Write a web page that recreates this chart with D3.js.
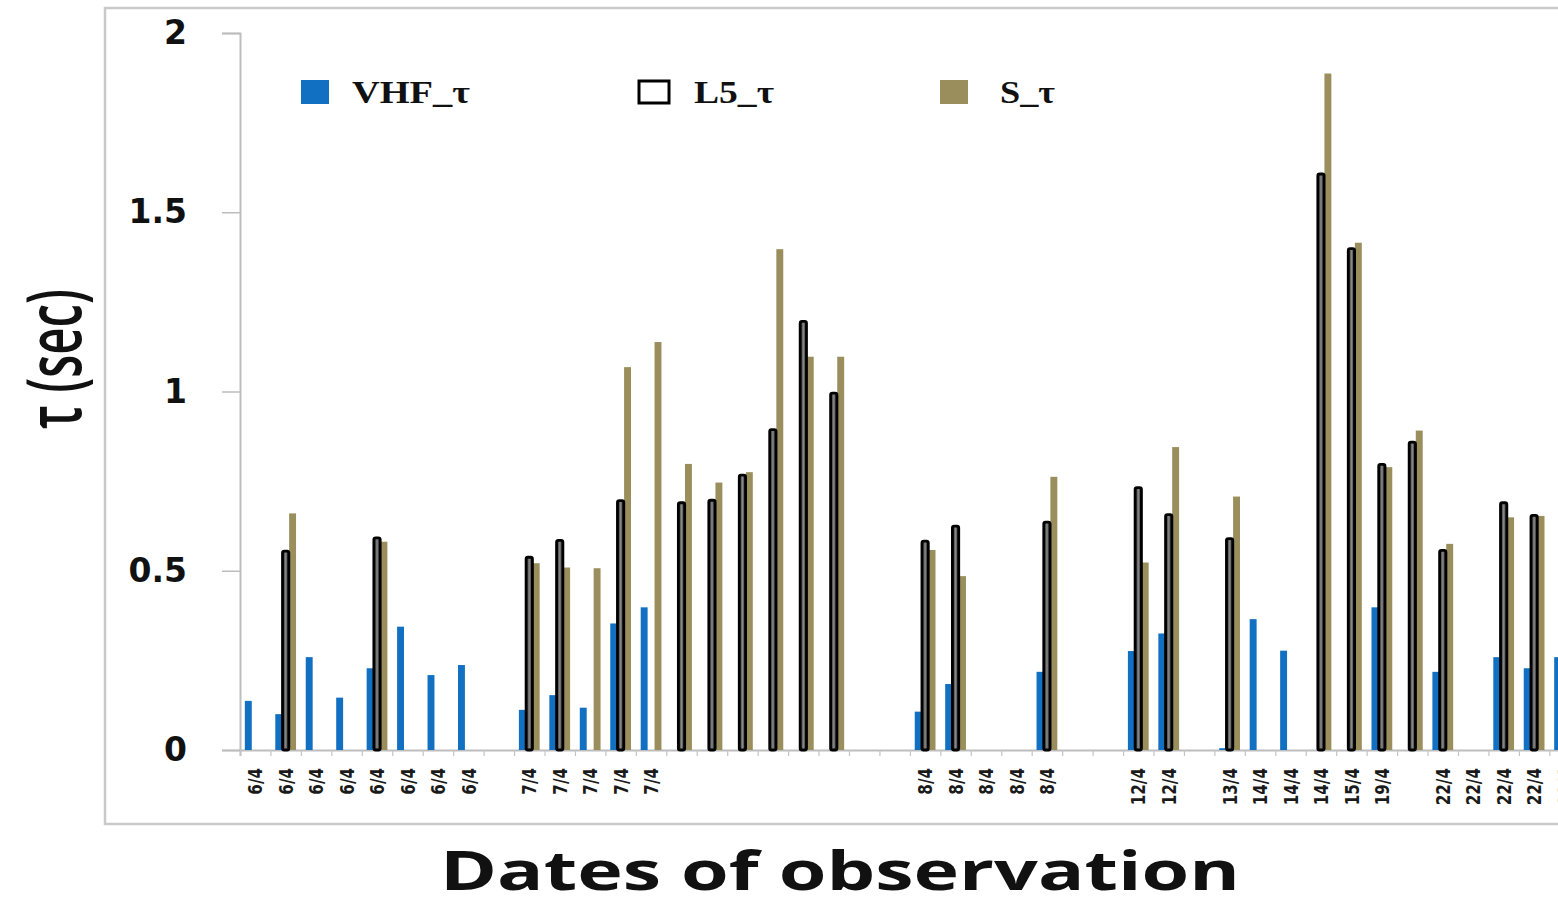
<!DOCTYPE html>
<html>
<head>
<meta charset="utf-8">
<script src="https://cdn.jsdelivr.net/npm/d3@7"></script>
<style>
  html, body { margin: 0; padding: 0; background: #fff; }
  svg { display: block; }
</style>
</head>
<body>
<svg id="chart" width="1558" height="897"></svg>
<script>
// Observation dates (one per bar group; blank where the axis has no label)
const categories = [
  "6/4","6/4","6/4","6/4","6/4","6/4","6/4","6/4",
  "",
  "7/4","7/4","7/4","7/4","7/4",
  "","","","","","","","",
  "8/4","8/4","8/4","8/4","8/4",
  "","",
  "12/4","12/4",
  "",
  "13/4","14/4","14/4","14/4","15/4","19/4",
  "",
  "22/4","22/4","22/4","22/4","22/4"
];

// Decorrelation time tau (sec) per link; null = no measurement
const vhfTau = [0.137,0.100,0.259,0.146,0.228,0.344,0.209,0.237,null,
  0.112,0.153,0.118,0.353,0.398,
  null,null,null,null,null,null,null,null,
  0.107,0.184,null,null,0.218,null,null,0.276,0.325,null,
  0.005,0.365,0.277,null,null,0.398,null,0.218,null,0.259,0.228,0.259];

const l5Tau = [null,0.558,null,null,0.595,null,null,null,null,
  0.541,0.588,null,0.699,null,
  0.693,0.700,0.770,0.897,1.199,0.999,null,null,
  0.586,0.628,null,null,0.639,null,null,0.735,0.660,null,
  0.593,null,null,1.610,1.402,0.800,0.862,0.560,null,0.693,0.658,null];

const sTau = [null,0.660,null,null,0.581,null,null,null,null,
  0.521,0.509,0.507,1.068,1.138,
  0.798,0.746,0.775,1.397,1.097,1.097,null,null,
  0.558,0.485,null,null,0.762,null,null,0.523,0.845,null,
  0.707,null,null,1.887,1.415,0.789,0.891,0.575,null,0.649,0.653,null];

const yTicks = [0, 0.5, 1, 1.5, 2];
const seriesNames = ["VHF_τ", "L5_τ", "S_τ"];

const svg = d3.select("#chart");
const defs = svg.append("defs");
const grad = defs.append("linearGradient").attr("id", "l5fill")
  .attr("x1", "0%").attr("x2", "100%").attr("y1", "0%").attr("y2", "0%");
grad.append("stop").attr("offset", "0%").attr("stop-color", "#1a1a1a");
grad.append("stop").attr("offset", "50%").attr("stop-color", "#8a8a8a");
grad.append("stop").attr("offset", "100%").attr("stop-color", "#1a1a1a");

// Outer chart frame
svg.append("rect")
  .attr("x", 105).attr("y", 8).attr("width", 1600).attr("height", 816)
  .attr("fill", "none").attr("stroke", "#c9c9c9").attr("stroke-width", 2.5);

const x0 = 240, step = 30.45;
const idx = d3.range(categories.length);
const x = d3.scaleBand().domain(idx).range([x0, x0 + step * categories.length]).padding(0);
const xs = d3.scaleBand().domain(["vhf", "l5", "s"]).range([0, x.bandwidth()])
  .paddingInner(0).paddingOuter(0.7);
const y = d3.scaleLinear().domain([0, 2]).range([750, 33]);

// Y axis
const yAxis = svg.append("g").attr("transform", `translate(${x0},0)`)
  .call(d3.axisLeft(y).tickValues(yTicks).tickSize(18).tickPadding(35).tickFormat(d => String(d)));
yAxis.select(".domain").attr("stroke", "#bdbdbd").attr("stroke-width", 2);
yAxis.selectAll(".tick line").attr("stroke", "#bdbdbd").attr("stroke-width", 1.5);
yAxis.selectAll(".tick text")
  .attr("font-family", "DejaVu Sans").attr("font-weight", "bold")
  .attr("font-size", 33).attr("fill", "#111");

// X axis: boundary ticks
const xb = d3.scaleLinear().domain([0, categories.length]).range(x.range());
const xAxisB = svg.append("g").attr("transform", "translate(0,750)")
  .call(d3.axisBottom(xb).tickValues(d3.range(0, categories.length + 1)).tickSize(6).tickFormat(""));
xAxisB.select(".domain").attr("stroke", "#bdbdbd").attr("stroke-width", 2);
xAxisB.selectAll(".tick line").attr("stroke", "#c4c4c4").attr("stroke-width", 1.2);

// X axis: date labels at group centres
const xAxisL = svg.append("g").attr("transform", "translate(0,750)")
  .call(d3.axisBottom(x).tickSize(0).tickFormat(i => categories[i]));
xAxisL.select(".domain").remove();
xAxisL.selectAll(".tick text")
  .attr("x", 0).attr("y", 0).attr("dy", "0.36em")
  .attr("text-anchor", "end")
  .attr("transform", "translate(0,18) rotate(-90) scale(0.76,1)")
  .attr("font-family", "DejaVu Sans").attr("font-weight", "bold")
  .attr("font-size", 20).attr("fill", "#1a1a1a");

// Bars
const bars = svg.append("g");
const rows = idx.map(i => ({ i, vhf: vhfTau[i], l5: l5Tau[i], s: sTau[i] }));

bars.selectAll("rect.vhf").data(rows.filter(d => d.vhf != null)).join("rect")
  .attr("class", "vhf")
  .attr("x", d => x(d.i) + xs("vhf")).attr("width", xs.bandwidth())
  .attr("y", d => y(d.vhf)).attr("height", d => y(0) - y(d.vhf))
  .attr("fill", "#1170c2");

bars.selectAll("rect.s").data(rows.filter(d => d.s != null)).join("rect")
  .attr("class", "s")
  .attr("x", d => x(d.i) + xs("s")).attr("width", xs.bandwidth())
  .attr("y", d => y(d.s)).attr("height", d => y(0) - y(d.s))
  .attr("fill", "#9a8f5c");

bars.selectAll("rect.l5").data(rows.filter(d => d.l5 != null)).join("rect")
  .attr("class", "l5")
  .attr("x", d => x(d.i) + xs("l5") + 0.3).attr("width", xs.bandwidth() - 0.6)
  .attr("y", d => y(d.l5) + 1.2).attr("height", d => y(0) - y(d.l5) - 1.2)
  .attr("rx", 1.8)
  .attr("fill", "url(#l5fill)").attr("stroke", "#000").attr("stroke-width", 2.8);

// Legend
const legend = [
  { name: seriesNames[0], x: 301, w: 28, tx: 352, tl: 118, fill: "#1170c2", stroke: "none" },
  { name: seriesNames[1], x: 639, w: 30, tx: 694, tl: 80, fill: "#fff", stroke: "#000" },
  { name: seriesNames[2], x: 940, w: 28, tx: 1000, tl: 55, fill: "#9a8f5c", stroke: "none" }
];
const lg = svg.append("g");
lg.selectAll("rect").data(legend).join("rect")
  .attr("x", d => d.x).attr("y", d => d.stroke === "none" ? 80 : 81)
  .attr("width", d => d.w).attr("height", d => d.stroke === "none" ? 24 : 22)
  .attr("fill", d => d.fill).attr("stroke", d => d.stroke).attr("stroke-width", 3);
lg.selectAll("text").data(legend).join("text")
  .attr("x", d => d.tx).attr("y", 103)
  .attr("textLength", d => d.tl).attr("lengthAdjust", "spacingAndGlyphs")
  .attr("font-family", "Liberation Serif").attr("font-weight", "bold")
  .attr("font-size", 32).attr("fill", "#111")
  .text(d => d.name);

// Axis titles
svg.append("text")
  .attr("transform", "translate(81,359) rotate(-90)")
  .attr("text-anchor", "middle")
  .attr("textLength", 140).attr("lengthAdjust", "spacingAndGlyphs")
  .attr("font-family", "Open Sans").attr("font-weight", 600)
  .attr("font-size", 76).attr("fill", "#111")
  .text("τ (sec)");

svg.append("text")
  .attr("x", 840).attr("y", 890)
  .attr("text-anchor", "middle")
  .attr("textLength", 800).attr("lengthAdjust", "spacingAndGlyphs")
  .attr("font-family", "Open Sans").attr("font-weight", 700)
  .attr("font-size", 54).attr("fill", "#111")
  .text("Dates of observation");
</script>
</body>
</html>
